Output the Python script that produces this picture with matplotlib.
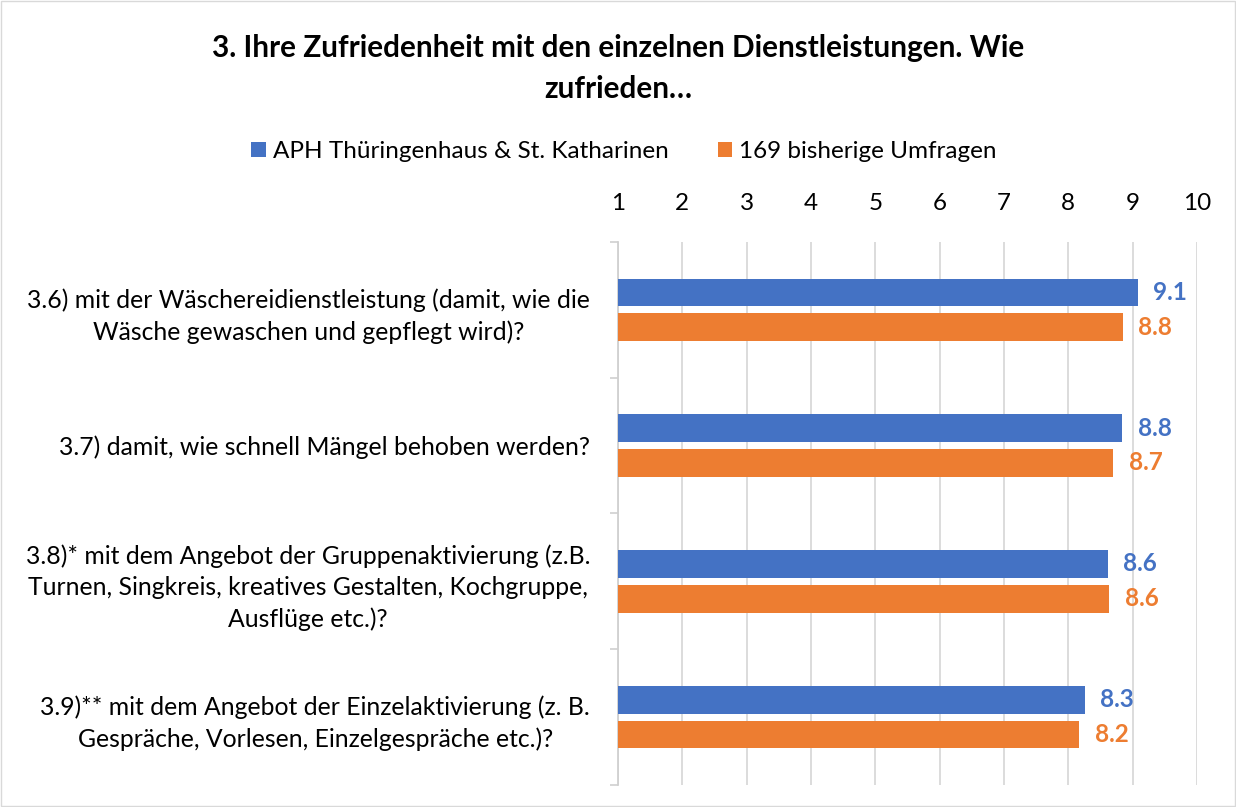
import matplotlib.pyplot as plt
import numpy as np
from matplotlib.patches import Rectangle

plt.rcParams['font.family'] = ['Lato', 'DejaVu Sans']

categories = [
    '3.6) mit der Wäschereidienstleistung (damit, wie die\nWäsche gewaschen und gepflegt wird)?',
    '3.7) damit, wie schnell Mängel behoben werden?',
    '3.8)* mit dem Angebot der Gruppenaktivierung (z.B.\nTurnen, Singkreis, kreatives Gestalten, Kochgruppe,\nAusflüge etc.)?',
    '3.9)** mit dem Angebot der Einzelaktivierung (z. B.\nGespräche, Vorlesen, Einzelgespräche etc.)?',
]
aph_values = [9.08, 8.84, 8.62, 8.26]
all_values = [8.85, 8.70, 8.64, 8.17]
series_names = ['APH Thüringenhaus & St. Katharinen', '169 bisherige Umfragen']
title = '3. Ihre Zufriedenheit mit den einzelnen Dienstleistungen. Wie\nzufrieden…'

blue = '#4472C4'
orange = '#ED7D31'

fig = plt.figure(figsize=(12.36, 8.07), dpi=100)
ax = fig.add_axes([0.5, 0.0273, 0.4684, 0.6728])

y = np.arange(len(categories))
h = 0.205
off = 0.128
b1 = ax.barh(y - off, np.array(aph_values) - 1, left=1, height=h, color=blue, label=series_names[0], zorder=3)
b2 = ax.barh(y + off, np.array(all_values) - 1, left=1, height=h, color=orange, label=series_names[1], zorder=3)

for bars, vals, col in [(b1, aph_values, blue), (b2, all_values, orange)]:
    for bar, v in zip(bars, vals):
        ax.annotate(f'{v:.1f}', (bar.get_x() + bar.get_width(), bar.get_y() + bar.get_height() / 2),
                    xytext=(11, 0), textcoords='offset points', ha='left', va='center',
                    color=col, fontsize=17.5, fontweight='bold')

ax.set_xlim(1, 10)
ax.set_ylim(3.5, -0.5)
ax.set_xticks(range(1, 11))
ax.xaxis.tick_top()
ax.tick_params(axis='x', length=0, pad=20, labelsize=17.5)
ax.set_yticks(y)
ax.set_yticklabels(categories, fontsize=17.8, multialignment='center', linespacing=1.42)
ax.tick_params(axis='y', length=0, pad=20)
ax.set_yticks([-0.5, 0.5, 1.5, 2.5, 3.5], minor=True)
ax.tick_params(axis='y', which='minor', length=6, color='#d0d0d0', width=1.2)
ax.grid(axis='x', color='#d9d9d9', linewidth=1.3, zorder=0)
for s in ['top', 'right', 'bottom']:
    ax.spines[s].set_visible(False)
ax.spines['left'].set_color('#d0d0d0')
ax.spines['left'].set_linewidth(1.3)

fig.text(0.5, 0.9155, title, ha='center', va='center', fontsize=21.4, fontweight='bold', linespacing=1.55)
fig.legend(handles=[b1, b2], loc='center', bbox_to_anchor=(0.505, 0.812), ncol=2, frameon=False,
           fontsize=17.5, handlelength=0.6, handleheight=0.6, columnspacing=2.0, handletextpad=0.3)

fig.patches.append(Rectangle((0.001, 0.001), 0.998, 0.998, transform=fig.transFigure,
                             fill=False, edgecolor='#d9d9d9', linewidth=1))

fig.savefig('out.png', dpi=100)
